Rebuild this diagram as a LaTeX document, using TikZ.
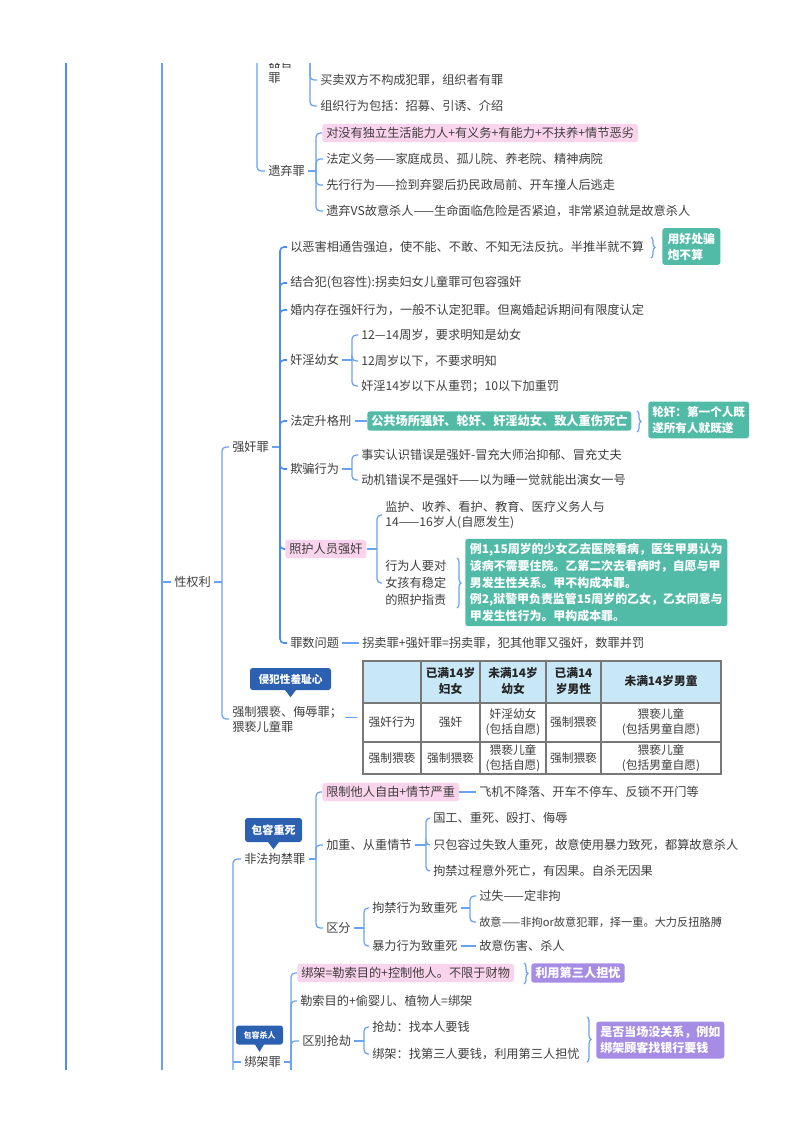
\documentclass[tikz,border=0pt]{standalone}
\usepackage{fontspec}
\setmainfont{Noto Sans CJK SC}
\usetikzlibrary{decorations.pathreplacing,calc}
\definecolor{tc}{RGB}{62,62,62}
\definecolor{lc}{RGB}{104,162,240}
\definecolor{lcd}{RGB}{74,140,240}
\definecolor{pinkc}{RGB}{250,212,236}
\definecolor{tealc}{RGB}{82,187,168}
\definecolor{purc}{RGB}{166,140,228}
\definecolor{cbl}{RGB}{44,96,176}
\definecolor{hdr}{RGB}{200,232,247}
\definecolor{gridc}{RGB}{120,120,120}
\newcommand\fsN{\fontsize{9.15pt}{11.25pt}\selectfont}
\newcommand\fsS{\fontsize{8.4pt}{10.5pt}\selectfont}
\newcommand\fsT{\fontsize{8.8pt}{10.75pt}\selectfont}
\begin{document}
\begin{tikzpicture}[x=0.75pt,y=-0.75pt,
  txt/.style={anchor=west, inner xsep=2.25pt, inner ysep=1.5pt, align=left, text=tc, font=\fsN},
  pkb/.style={txt, fill=pinkc, rounded corners=2pt, inner xsep=3pt, inner ysep=2.6pt},
  tlb/.style={anchor=west, fill=tealc, text=white, font=\fsN\bfseries, rounded corners=2pt, align=left, inner xsep=3pt, inner ysep=3pt},
  pub/.style={tlb, fill=purc},
  conn/.style={draw=lc, line width=0.95pt, rounded corners=3pt},
  brc/.style={draw=lc, line width=0.9pt, decorate, decoration={brace, amplitude=3pt}},
  callout/.style={fill=cbl, text=white, rounded corners=2pt, inner sep=0pt, align=center},
  cell/.style={text=tc, font=\fsT, align=center, inner sep=0pt},
  hcell/.style={cell, font=\fsT\bfseries, text=black!85},
]
\useasboundingbox (0,0) rectangle (800,1132);
\begin{scope}
\clip (0,63) rectangle (800,1069);

% main vertical lines
\coordinate (L66a) at (66,40); \coordinate (L66b) at (66,1100);
\draw[draw=lcd, line width=1.9pt] (L66a) -- (L66b);
\coordinate (L162a) at (162,40); \coordinate (L162b) at (162,1100);
\draw[draw=lc, line width=1.1pt] (L162a) -- (L162b);

% ---------- top section ----------
\node[txt] (qgz) at (265,70) {器官\\罪};
\coordinate (qgzB) at (310,40);
\node[txt] (g1) at (317,80) {买卖双方不构成犯罪，组织者有罪};
\node[txt] (g2) at (317,106) {组织行为包括：招募、引诱、介绍};
\draw[conn] (qgzB) |- (g1.west);
\draw[conn] (qgzB) |- (g2.west);

\coordinate (topP) at (257,40);
\node[txt] (yqz) at (265,171) {遗弃罪};
\draw[conn] (topP) |- (yqz.west);
\coordinate (yqzB) at (316,171);
\draw[conn] (yqz.east) -- (yqzB);
\node[pkb] (yq1) at (322,133) {对没有独立生活能力人+有义务+有能力+不扶养+情节恶劣};
\node[txt] (yq2) at (323,159) {法定义务——家庭成员、孤儿院、养老院、精神病院};
\node[txt] (yq3) at (323,185) {先行行为——捡到弃婴后扔民政局前、开车撞人后逃走};
\node[txt] (yq4) at (323,211) {遗弃VS故意杀人——生命面临危险是否紧迫，非常紧迫就是故意杀人};
\foreach \c in {yq1,yq2,yq3,yq4} \draw[conn] (yqzB) |- (\c.west);

% ---------- 性权利 ----------
\coordinate (xqlT) at (162,582);
\node[txt] (xql) at (171,582) {性权利};
\draw[conn] (xqlT) -- (xql.west);
\coordinate (xqlB) at (222,582);
\draw[conn] (xql.east) -- (xqlB);
\node[txt] (qjz) at (229,447) {强奸罪};
\node[txt] (qzwx) at (229,719) {强制猥亵、侮辱罪；\\猥亵儿童罪};
\draw[conn] (xqlB) |- (qjz.west);
\draw[conn] (xqlB) |- (qzwx.west);

% ---------- 强奸罪 ----------
\coordinate (qjzB) at (280,447);
\draw[conn] (qjz.east) -- (qjzB);
\node[txt] (q1) at (287,247) {以恶害相通告强迫，使不能、不敢、不知无法反抗。半推半就不算};
\node[txt] (q2) at (287,283) {结合犯(包容性):拐卖妇女儿童罪可包容强奸};
\node[txt] (q3) at (287,310) {婚内存在强奸行为，一般不认定犯罪。但离婚起诉期间有限度认定};
\node[txt] (q4) at (287,360) {奸淫幼女};
\node[txt] (q5) at (287,421) {法定升格刑};
\node[txt] (q6) at (287,469) {欺骗行为};
\node[pkb] (q7) at (285,549) {照护人员强奸};
\node[txt] (q8) at (287,643) {罪数问题};
\foreach \c in {q1,q2,q3,q4,q5,q6,q7,q8} \draw[conn, draw=lcd, line width=1.2pt] (qjzB) |- (\c.west);

\draw[brc] (651,237) -- (651,258);
\node[tlb, font=\fontsize{8.9pt}{12pt}\selectfont\bfseries, inner ysep=3.5pt, inner xsep=4pt] (q1a) at (662,246.5) {用好处骗\\炮不算};

\coordinate (q4B) at (352,360);
\draw[conn] (q4.east) -- (q4B);
\node[txt] (j1) at (358,335) {12—14周岁，要求明知是幼女};
\node[txt] (j2) at (358,361) {12周岁以下，不要求明知};
\node[txt] (j3) at (358,386) {奸淫14岁以下从重罚；10以下加重罚};
\foreach \c in {j1,j2,j3} \draw[conn] (q4B) |- (\c.west);

\node[tlb, inner ysep=2.8pt] (q5a) at (367,421) {公共场所强奸、轮奸、奸淫幼女、致人重伤死亡};
\draw[conn] (q5.east) -- (q5a.west);
\draw[brc] (637,411) -- (637,432);
\node[tlb, font=\fontsize{8.7pt}{12pt}\selectfont\bfseries, inner ysep=3.5pt] (q5b) at (648,420) {轮奸：第一个人既\\遂所有人就既遂};

\coordinate (q6B) at (352,469);
\draw[conn] (q6.east) -- (q6B);
\node[txt] (k1) at (358,455) {事实认识错误是强奸-冒充大师治抑郁、冒充丈夫};
\node[txt] (k2) at (358,480) {动机错误不是强奸——以为睡一觉就能出演女一号};
\foreach \c in {k1,k2} \draw[conn] (q6B) |- (\c.west);

\coordinate (q7B) at (377,549);
\draw[conn] (q7.east) -- (q7B);
\node[txt] (z1) at (382,515) {监护、收养、看护、教育、医疗义务人与\\14——16岁人(自愿发生)};
\node[txt, font=\fontsize{9.15pt}{12.75pt}\selectfont] (z2) at (382,583) {行为人要对\\女孩有稳定\\的照护指责};
\foreach \c in {z1,z2} \draw[conn] (q7B) |- (\c.west);
\draw[brc] (457,558) -- (457,608);
\node[tlb, font=\fontsize{8.95pt}{12.6pt}\selectfont\bfseries, inner ysep=3.2pt, inner xsep=3.5pt] (z3) at (465,582.5) {例1,15周岁的少女乙去医院看病，医生甲男认为\\该病不需要住院。乙第二次去看病时，自愿与甲\\男发生性关系。甲不构成本罪。\\例2,狱警甲负责监管15周岁的乙女，乙女同意与\\甲发生性行为。甲构成本罪。};

\node[txt] (q8a) at (359,643) {拐卖罪+强奸罪=拐卖罪，犯其他罪又强奸，数罪并罚};
\draw[conn] (q8.east) -- (q8a.west);

% ---------- 强制猥亵 ----------
\node[callout, font=\fontsize{8pt}{9pt}\selectfont\bfseries, minimum width=60.75pt, minimum height=16.5pt] (cw1) at (290.5,679) {侵犯性羞耻心};
\fill[cbl] ($(cw1.south)+(-6,-1)$) -- ($(cw1.south)+(6,-1)$) -- ($(cw1.south)+(0,7)$) -- cycle;

\node[draw=gridc, line width=0.8pt, minimum width=268.5pt, minimum height=84.75pt, inner sep=0pt] (tbl) at (542,717.5) {};
\fill[hdr] (363,661) rectangle (721,703);
\draw[gridc, line width=0.8pt] (363,661) rectangle (721,774);
\draw[gridc, line width=0.8pt] (363,703) -- (721,703) (363,742) -- (721,742)
  (421,661) -- (421,774) (480,661) -- (480,774) (546,661) -- (546,774) (601,661) -- (601,774);
\coordinate (tA) at (345,717.5);
\draw[conn] (tA) -- ($(tbl.west)+(-5,0)$);

\node[hcell, font=\fontsize{8.8pt}{12pt}\selectfont\bfseries] (h2) at (450.5,681) {已满14岁\\妇女};
\node[hcell, font=\fontsize{8.8pt}{12pt}\selectfont\bfseries] (h3) at (513,681) {未满14岁\\幼女};
\node[hcell, font=\fontsize{8.8pt}{12pt}\selectfont\bfseries] (h4) at (573.5,681) {已满14\\岁男性};
\node[hcell] (h5) at (661,681) {未满14岁男童};
\node[cell] (r21) at (392,722) {强奸行为};
\node[cell] (r22) at (450.5,722) {强奸};
\node[cell] (r23) at (513,722) {奸淫幼女\\(包括自愿)};
\node[cell] (r24) at (573.5,722) {强制猥亵};
\node[cell] (r25) at (661,722) {猥亵儿童\\(包括男童自愿)};
\node[cell] (r31) at (392,758) {强制猥亵};
\node[cell] (r32) at (450.5,758) {强制猥亵};
\node[cell] (r33) at (513,758) {猥亵儿童\\(包括自愿)};
\node[cell] (r34) at (573.5,758) {强制猥亵};
\node[cell] (r35) at (661,758) {猥亵儿童\\(包括男童自愿)};

% ---------- 非法拘禁罪 ----------
\node[callout, font=\fontsize{8.3pt}{9pt}\selectfont\bfseries, minimum width=42.75pt, minimum height=18pt] (cw2) at (273.5,830) {包容重死};
\fill[cbl] ($(cw2.south)+(-6,-1)$) -- ($(cw2.south)+(6,-1)$) -- ($(cw2.south)+(0,7)$) -- cycle;
\node[txt] (fflj) at (241,859) {非法拘禁罪};
\coordinate (L233b) at (233,1100);
\draw[conn] (fflj.west) -| (L233b);
\coordinate (fflB) at (316,859);
\draw[conn] (fflj.east) -- (fflB);
\node[pkb] (f1) at (322,792) {限制他人自由+情节严重};
\node[txt] (f2) at (323,845) {加重、从重情节};
\node[txt] (f3) at (323,928) {区分};
\foreach \c in {f1,f2,f3} \draw[conn] (fflB) |- (\c.west);
\node[txt] (f1a) at (476,792) {飞机不降落、开车不停车、反锁不开门等};
\draw[conn] (f1.east) -- (f1a.west);

\coordinate (f2B) at (426,845);
\draw[conn] (f2.east) -- (f2B);
\node[txt] (f2a) at (430,818) {国工、重死、殴打、侮辱};
\node[txt] (f2b) at (430,845) {只包容过失致人重死，故意使用暴力致死，都算故意杀人};
\node[txt] (f2c) at (430,871) {拘禁过程意外死亡，有因果。自杀无因果};
\foreach \c in {f2a,f2b,f2c} \draw[conn] (f2B) |- (\c.west);

\coordinate (f3B) at (364,928);
\draw[conn] (f3.east) -- (f3B);
\node[txt] (f3a) at (369,908) {拘禁行为致重死};
\node[txt] (f3b) at (369,946) {暴力行为致重死};
\foreach \c in {f3a,f3b} \draw[conn] (f3B) |- (\c.west);
\coordinate (f3aB) at (470,908);
\draw[conn] (f3a.east) -- (f3aB);
\node[txt] (g31) at (476,896) {过失——定非拘};
\node[txt, font=\fsS] (g32) at (476,922) {故意——非拘or故意犯罪，择一重。大力反扭胳膊};
\foreach \c in {g31,g32} \draw[conn] (f3aB) |- (\c.west);
\node[txt] (f3c) at (476,946) {故意伤害、杀人};
\draw[conn] (f3b.east) -- (f3c.west);

% ---------- 绑架罪 ----------
\node[callout, font=\fontsize{6pt}{7pt}\selectfont\bfseries, minimum width=35.25pt, minimum height=14.25pt] (cw3) at (259.5,1035) {包容杀人};
\fill[cbl] ($(cw3.south)+(-5,-1)$) -- ($(cw3.south)+(5,-1)$) -- ($(cw3.south)+(0,7)$) -- cycle;
\coordinate (bjzT) at (233,1062);
\node[txt] (bjz) at (241,1062) {绑架罪};
\draw[conn] (bjzT) -- (bjz.west);
\coordinate (bjzB) at (291,1062);
\coordinate (bjzBot) at (291,1100);
\draw[conn] (bjz.east) -- (bjzB);
\draw[conn] (bjzB) -- (bjzBot);
\node[pkb] (b1) at (297,973) {绑架=勒索目的+控制他人。不限于财物};
\node[txt] (b2) at (297,1001) {勒索目的+偷婴儿、植物人=绑架};
\node[txt] (b3) at (299,1041) {区别抢劫};
\foreach \c in {b1,b2,b3} \draw[conn] (bjzB) |- (\c.west);
\draw[brc] (524,963) -- (524,984);
\node[pub, inner ysep=2.8pt] (b1a) at (531,973) {利用第三人担忧};

\coordinate (b3B) at (364,1041);
\draw[conn] (b3.east) -- (b3B);
\node[txt] (b31) at (369,1027) {抢劫：找本人要钱};
\node[txt] (b32) at (369,1054) {绑架：找第三人要钱，利用第三人担忧};
\foreach \c in {b31,b32} \draw[conn] (b3B) |- (\c.west);
\draw[brc] (587,1017) -- (587,1062);
\node[pub, font=\fontsize{9pt}{12pt}\selectfont\bfseries, inner ysep=3.5pt] (b3a) at (596,1040) {是否当场没关系，例如\\绑架顾客找银行要钱};

\end{scope}
\end{tikzpicture}
\end{document}
